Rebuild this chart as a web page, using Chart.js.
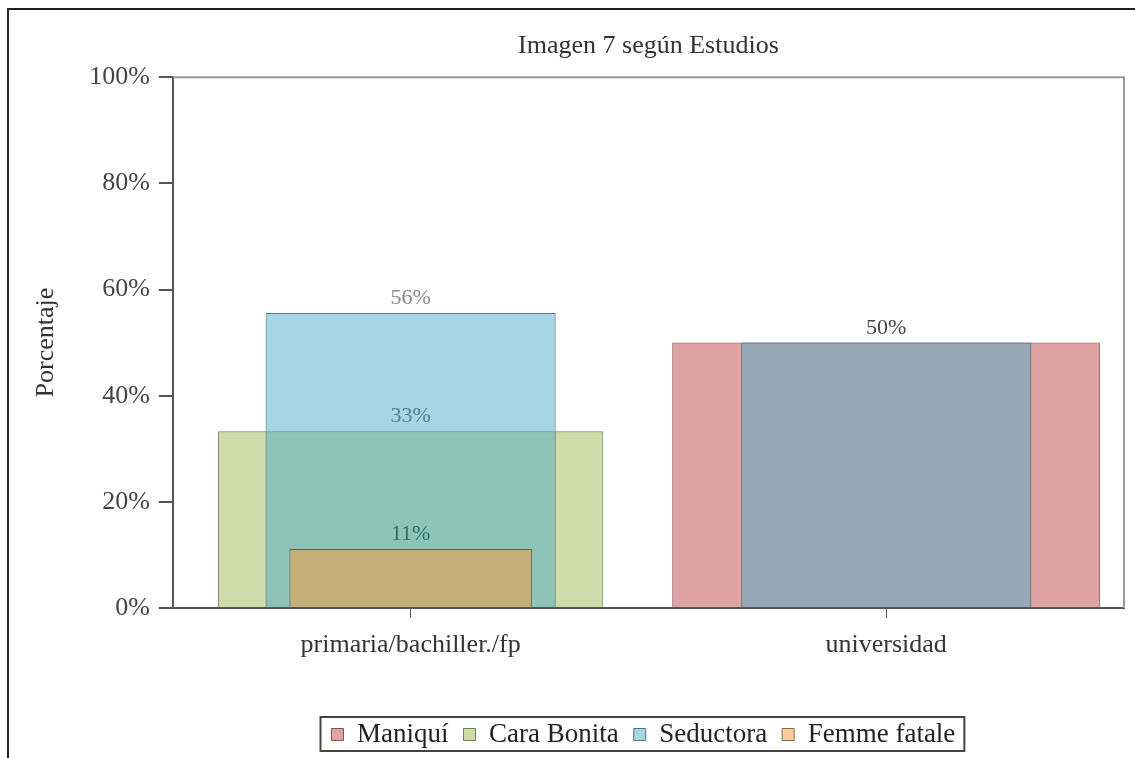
<!DOCTYPE html>
<html>
<head>
<meta charset="utf-8">
<script src="https://cdn.jsdelivr.net/npm/chart.js@4/dist/chart.umd.min.js"></script>
<style>
    html, body { margin: 0; padding: 0; background: #fff; }
    #wrap { position: relative; width: 1135px; height: 758px; }
    #frame {
        position: absolute; left: 7px; top: 8px; right: 0; bottom: 0;
        border-left: 2px solid #222; border-top: 2px solid #222;
        pointer-events: none;
    }
</style>
</head>
<body>
<div id="wrap">
    <canvas id="chart" width="1135" height="758"></canvas>
    <div id="frame"></div>
</div>
<script>
const categorias = ["primaria/bachiller./fp", "universidad"];
const maniqui = [null, 50];
const caraBonita = [33.3, null];
const seductora = [55.6, 50];
const femmeFatale = [11.1, null];
const yTicks = [0, 20, 40, 60, 80, 100];

const fontFam = "'Liberation Serif', 'Times New Roman', serif";

// etiquetas de valor encima de cada barra, pintadas por capa
const valueLabels = {
    id: "valueLabels",
    beforeDatasetsDraw(chart) {
        chart.$seen = {};
    },
    afterDatasetDraw(chart, args) {
        const ds = chart.data.datasets[args.index];
        const ctx = chart.ctx;
        ctx.save();
        ctx.font = "22px " + fontFam;
        ctx.textAlign = "center";
        ctx.textBaseline = "alphabetic";
        ctx.fillStyle = ds.labelColor;
        args.meta.data.forEach((bar, i) => {
            const v = ds.data[i];
            if (v === null) return;
            const key = i + "_" + Math.round(v);
            if (chart.$seen[key]) return;
            chart.$seen[key] = true;
            ctx.fillText(Math.round(v) + "%", bar.x, bar.y - 9);
        });
        ctx.restore();
    }
};

// titulo y leyenda centrados sobre el area de trazado
const centerOnArea = {
    id: "centerOnArea",
    afterLayout(chart) {
        const a = chart.chartArea;
        if (chart.titleBlock) {
            chart.titleBlock.left = a.left;
            chart.titleBlock.right = a.right;
            chart.titleBlock.width = a.right - a.left;
        }
        if (chart.legend) {
            const shift = (a.left + a.right) / 2 - (chart.legend.left + chart.legend.right) / 2 - 5;
            chart.legend.left += shift;
            chart.legend.right += shift;
        }
    }
};

// marco del area de trazado y caja de la leyenda
const boxes = {
    id: "boxes",
    afterDraw(chart) {
        const ctx = chart.ctx;
        const a = chart.chartArea;
        ctx.save();
        ctx.strokeStyle = "#999";
        ctx.lineWidth = 2;
        ctx.beginPath();
        ctx.moveTo(a.left, a.top);
        ctx.lineTo(a.right, a.top);
        ctx.lineTo(a.right, a.bottom);
        ctx.stroke();

        const lg = chart.legend;
        const pad = lg.options.labels.padding;
        const w = lg.lineWidths[0];
        const start = (lg.left + pad + lg.right - w) / 2;
        const cy = lg.top + pad + 13;
        ctx.strokeStyle = "#444";
        ctx.lineWidth = 2;
        ctx.strokeRect(start - 11, cy - 17, w - pad + 20, 34);
        ctx.restore();
    }
};

window.addEventListener("DOMContentLoaded", () => {
    new Chart(document.getElementById("chart"), {
        type: "bar",
        data: {
            labels: categorias,
            datasets: [{
                label: "Maniquí",
                data: maniqui,
                backgroundColor: "rgba(193, 72, 72, 0.5)",
                borderColor: "rgba(110, 50, 50, 0.8)",
                borderWidth: 1,
                barPercentage: 0.9,
                order: 4,
                labelColor: "#444"
            }, {
                label: "Cara Bonita",
                data: caraBonita,
                backgroundColor: "rgba(160, 184, 82, 0.5)",
                borderColor: "rgba(90, 100, 60, 0.8)",
                borderWidth: 1,
                barPercentage: 0.81,
                order: 3,
                labelColor: "#555"
            }, {
                label: "Seductora",
                data: seductora,
                backgroundColor: "rgba(78, 172, 200, 0.5)",
                borderColor: "rgba(50, 90, 105, 0.8)",
                borderWidth: 1,
                barPercentage: 0.61,
                order: 2,
                labelColor: "#888"
            }, {
                label: "Femme fatale",
                data: femmeFatale,
                backgroundColor: "rgba(255, 154, 60, 0.5)",
                borderColor: "rgba(90, 80, 50, 0.8)",
                borderWidth: 1,
                barPercentage: 0.51,
                order: 1,
                labelColor: "#2f6e6a"
            }]
        },
        options: {
            responsive: false,
            animation: false,
            layout: { padding: { left: 17, right: 11, top: 10, bottom: 0 } },
            datasets: { bar: { grouped: false, categoryPercentage: 1 } },
            plugins: {
                title: {
                    display: true,
                    text: "Imagen 7 según Estudios",
                    color: "#333",
                    font: { family: fontFam, size: 26, weight: "normal" },
                    padding: { top: 21, bottom: 15 }
                },
                legend: {
                    position: "bottom",
                    reverse: true,
                    labels: {
                        boxWidth: 12,
                        boxHeight: 12,
                        padding: 15,
                        color: "#222",
                        font: { family: fontFam, size: 27 }
                    }
                },
                tooltip: { enabled: false }
            },
            scales: {
                x: {
                    offset: true,
                    afterFit: (scale) => { scale.height = 98; },
                    border: { display: true, color: "#555", width: 2 },
                    grid: { display: true, drawOnChartArea: false, offset: false, tickLength: 10, color: "#555", lineWidth: 1 },
                    ticks: { color: "#333", padding: 12, font: { family: fontFam, size: 26 } }
                },
                y: {
                    min: 0,
                    max: 100,
                    afterBuildTicks: (scale) => { scale.ticks = yTicks.map(v => ({ value: v })); },
                    border: { display: true, color: "#555", width: 2 },
                    grid: { display: true, drawOnChartArea: false, tickLength: 14, color: "#555", lineWidth: 2 },
                    ticks: { color: "#444", padding: 9, font: { family: fontFam, size: 26 }, callback: (v) => v + "%" },
                    title: {
                        display: true,
                        text: "Porcentaje",
                        color: "#333",
                        font: { family: fontFam, size: 26 },
                        padding: { top: 14, bottom: 18 }
                    }
                }
            }
        },
        plugins: [valueLabels, centerOnArea, boxes]
    });
});
</script>
</body>
</html>
